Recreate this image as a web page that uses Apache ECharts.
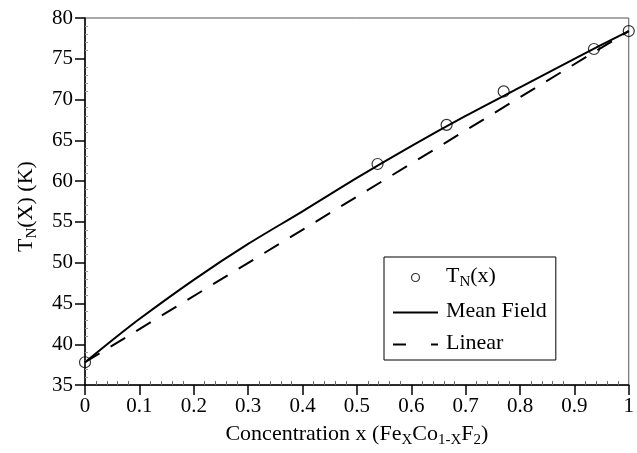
<!DOCTYPE html>
<html>
<head>
<meta charset="utf-8">
<script src="https://cdn.jsdelivr.net/npm/echarts@6/dist/echarts.min.js"></script>
<style>
html,body{margin:0;padding:0;background:#fff;}
#c{width:637px;height:453px;}
</style>
</head>
<body>
<div id="c"></div>
<script>
// Data
const meanFieldX = [0, 0.05, 0.1, 0.2, 0.3, 0.4, 0.5, 0.6, 0.7, 0.8, 0.9, 1.0];
const meanFieldY = [37.8, 40.5, 43.1, 47.9, 52.3, 56.3, 60.4, 64.3, 68.0, 71.5, 75.0, 78.4];
const linearX = [0, 1];
const linearY = [37.8, 78.4];
const measuredX = [0, 0.538, 0.665, 0.770, 0.936, 1.0];
const measuredY = [37.8, 62.1, 66.9, 71.0, 76.2, 78.4];
const xTicks = {min: 0, max: 1, interval: 0.1};
const yTicks = {min: 35, max: 80, interval: 5};

const FONT = 'Liberation Serif';
const richTitle = {
  n: {fontFamily: FONT, fontSize: 22, color: '#000', lineHeight: 25, verticalAlign: 'top'},
  s: {fontFamily: FONT, fontSize: 15, color: '#000', lineHeight: 15, padding: [11, 0, 0, 0], verticalAlign: 'bottom'}
};

const zip = (a, b) => a.map((v, i) => [v, b[i]]);
const hidden = {color: 'transparent', borderColor: 'transparent', borderWidth: 0, opacity: 0};

const chart = echarts.init(document.getElementById('c'), null, {renderer: 'canvas'});
chart.setOption({
  animation: false,
  backgroundColor: '#fff',
  grid: {left: 85, right: 7, top: 18, bottom: 61, show: true, borderColor: '#555', borderWidth: 1, backgroundColor: 'transparent'},
  xAxis: [{
    type: 'value', min: xTicks.min, max: xTicks.max, interval: xTicks.interval,
    axisLine: {show: true, onZero: false, lineStyle: {color: '#000', width: 1.5}},
    axisTick: {show: true, inside: false, length: 10, lineStyle: {color: '#000', width: 1.5}},
    axisLabel: {fontFamily: FONT, fontSize: 21, color: '#000', margin: 11},
    splitLine: {show: false},
    name: '{n|Concentration x (Fe}{s|X}{n|Co}{s|1-X}{n|F}{s|2}{n|)}',
    nameLocation: 'middle', nameGap: 35,
    nameTextStyle: {rich: richTitle, verticalAlign: 'top'}
  }, {
    type: 'value', min: xTicks.min, max: xTicks.max, interval: xTicks.interval, position: 'bottom',
    axisLine: {show: false}, axisLabel: {show: false}, splitLine: {show: false},
    axisTick: {show: false, inside: true},
    minorTick: {show: true, splitNumber: 5, length: 4, lineStyle: {color: '#666', width: 1}}
  }],
  yAxis: [{
    type: 'value', min: yTicks.min, max: yTicks.max, interval: yTicks.interval,
    axisLine: {show: true, onZero: false, lineStyle: {color: '#000', width: 1.5}},
    axisTick: {show: true, inside: false, length: 10, lineStyle: {color: '#000', width: 1.5}},
    axisLabel: {fontFamily: FONT, fontSize: 21, color: '#000', margin: 12},
    splitLine: {show: false},
    name: '{n|T}{s|N}{n|(X) (K)}',
    nameLocation: 'middle', nameGap: 45,
    nameTextStyle: {rich: richTitle, padding: [0, 10, 0, 0]}
  }, {
    type: 'value', min: yTicks.min, max: yTicks.max, interval: yTicks.interval, position: 'left',
    axisLine: {show: false}, axisLabel: {show: false}, splitLine: {show: false},
    axisTick: {show: false, inside: true},
    minorTick: {show: true, splitNumber: 5, length: 3, lineStyle: {color: '#999', width: 1}}
  }],
  legend: {
    orient: 'vertical', left: 384, top: 257,
    padding: [7, 9, 6, 8], itemGap: 10,
    itemWidth: 45, itemHeight: 8,
    borderColor: '#000', borderWidth: 1, backgroundColor: '#fff',
    textStyle: {rich: richTitle, padding: [0, 0, 0, 3]},
    formatter: function (name) {
      if (name === 'TN') return '{n|T}{s|N}{n|(x)}';
      return '{n|' + name + '}';
    },
    data: [
      {name: 'TN', icon: 'circle', itemStyle: {color: 'transparent', borderColor: '#000', borderWidth: 1.2}},
      {name: 'Mean Field', itemStyle: hidden},
      {name: 'Linear', itemStyle: hidden, lineStyle: {type: [13, 25]}}
    ]
  },
  series: [{
    name: 'Mean Field', type: 'line', xAxisIndex: 0, yAxisIndex: 0,
    data: zip(meanFieldX, meanFieldY), smooth: 0.3, symbol: 'none',
    lineStyle: {color: '#000', width: 2}, itemStyle: {color: '#000'}, z: 3
  }, {
    name: 'Linear', type: 'line', xAxisIndex: 0, yAxisIndex: 0,
    data: zip(linearX, linearY), symbol: 'none',
    lineStyle: {color: '#000', width: 2, type: [17, 13]}, itemStyle: {color: '#000'}, z: 2
  }, {
    name: 'TN', type: 'scatter', xAxisIndex: 0, yAxisIndex: 0,
    data: zip(measuredX, measuredY), symbol: 'circle', symbolSize: 11,
    itemStyle: {color: 'transparent', borderColor: '#000', borderWidth: 1.2}, z: 4
  }]
});
</script>
</body>
</html>
